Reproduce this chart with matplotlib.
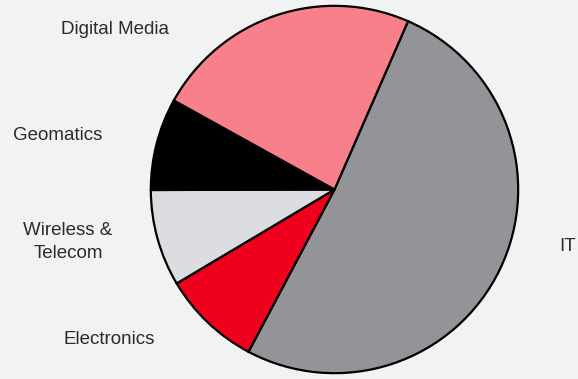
import matplotlib.pyplot as plt

# Datos del gráfico (porcentajes aproximados)
sectores = ['IT', 'Electronics', 'Wireless &\nTelecom', 'Geomatics', 'Digital Media']
valores = [51.2, 8.7, 8.5, 8.1, 23.5]
colores = ['#939498', '#ef001d', '#dcdde0', '#000000', '#f7808b']

plt.rcParams['font.family'] = ['Liberation Sans', 'DejaVu Sans']

fig = plt.figure(figsize=(5.78, 3.79), dpi=100)
fig.patch.set_facecolor('#f1f2f2')

ax = fig.add_axes([149 / 578, 4 / 379, 371 / 578, 371 / 379])
ax.pie(valores, colors=colores, startangle=66.4, counterclock=False,
       wedgeprops=dict(edgecolor='black', linewidth=1.6))
ax.set_xlim(-1.01, 1.01)
ax.set_ylim(-1.01, 1.01)
ax.set_aspect('equal')
ax.axis('off')

# Etiquetas (posiciones en píxeles de la figura)
posiciones = {
    'Digital Media': (115, 29),
    'Geomatics': (58, 136),
    'Wireless &\nTelecom': (68, 242),
    'Electronics': (109, 340),
    'IT': (568, 246),
}
for nombre, (x, y) in posiciones.items():
    fig.text(x / 578, 1 - y / 379, nombre, ha='center', va='center',
             fontsize=13.5, color='#2b2b2b', linespacing=1.4)

fig.savefig('out.png', dpi=100, facecolor=fig.get_facecolor())
